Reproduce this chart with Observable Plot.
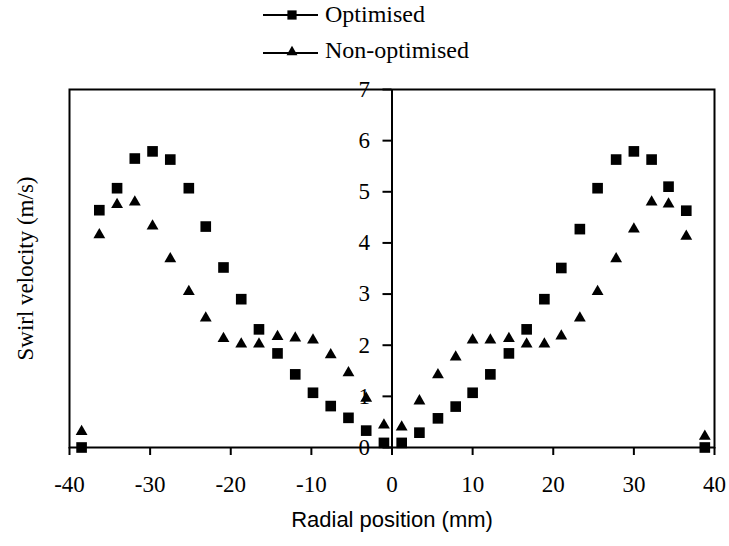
<!DOCTYPE html>
<html><head><meta charset="utf-8">
<script src="https://cdn.jsdelivr.net/npm/d3@7"></script>
<script src="https://cdn.jsdelivr.net/npm/@observablehq/plot@0.6"></script>
<style>
body{margin:0;background:#fff;width:729px;height:546px;overflow:hidden;font-family:"Liberation Serif","Times New Roman",Times,"DejaVu Serif",serif;}
#legend{display:block;}
#chart svg{display:block;}
</style></head><body>
<svg id="legend" width="729" height="70"></svg>
<div id="chart"></div>
<script>
// ---- data ----
const radial = [-38.5, -36.3, -34.1, -31.9, -29.7, -27.5, -25.2, -23.1, -20.9, -18.7, -16.5, -14.2, -12.0, -9.8, -7.6, -5.4, -3.2, -1.0,
                1.2, 3.4, 5.7, 7.9, 10.0, 12.2, 14.5, 16.7, 18.9, 21.0, 23.3, 25.5, 27.8, 30.0, 32.2, 34.3, 36.5, 38.8];
const optimised = [0.0, 4.64, 5.07, 5.65, 5.79, 5.63, 5.07, 4.32, 3.52, 2.90, 2.31, 1.84, 1.43, 1.07, 0.81, 0.58, 0.33, 0.09,
                   0.09, 0.29, 0.57, 0.80, 1.07, 1.43, 1.84, 2.31, 2.90, 3.51, 4.27, 5.07, 5.63, 5.79, 5.63, 5.10, 4.63, 0.0];
const nonOptimised = [0.31, 4.16, 4.75, 4.80, 4.33, 3.69, 3.05, 2.53, 2.13, 2.02, 2.02, 2.17, 2.14, 2.10, 1.81, 1.46, 0.96, 0.44,
                      0.40, 0.91, 1.42, 1.77, 2.10, 2.10, 2.13, 2.02, 2.02, 2.18, 2.53, 3.05, 3.69, 4.27, 4.80, 4.76, 4.13, 0.22];
const seriesNames = ["Optimised", "Non-optimised"];
const seriesSymbols = ["square", "triangle"];
const xTicks = [-40, -30, -20, -10, 0, 10, 20, 30, 40];
const yTicks = [0, 1, 2, 3, 4, 5, 6, 7];
const xLabel = "Radial position (mm)";
const yLabel = "Swirl velocity (m/s)";

const SERIF = '"Liberation Serif", "Times New Roman", Times, "DejaVu Serif", serif';
const SANS = '"Liberation Sans", Arial, Helvetica, sans-serif';

// ---- legend ----
const leg = d3.select("#legend");
const rowY = [15, 53];
const textBase = [22, 57.5];
seriesNames.forEach((name, i) => {
  leg.append("line").attr("x1", 263).attr("x2", 318).attr("y1", rowY[i]).attr("y2", rowY[i])
     .attr("stroke", "black").attr("stroke-width", 1.8);
  const sym = d3.symbol().type(seriesSymbols[i] === "square" ? d3.symbolSquare : d3.symbolTriangle)
     .size(seriesSymbols[i] === "square" ? 85 : 52);
  leg.append("path").attr("d", sym()).attr("transform", `translate(292,${rowY[i] + (i === 1 ? -1 : 0)})`).attr("fill", "black");
  leg.append("text").attr("x", 325).attr("y", textBase[i]).attr("font-size", 24)
     .style("font-family", SERIF).attr("fill", "black").text(name);
});

// ---- chart ----
const W = 729, H = 476;
const mL = 69, mR = 15, mT = 19, mB = 99;
const xDomain = [-40, 40];
const axisDx = (W - mL - mR) * (0 - xDomain[0]) / (xDomain[1] - xDomain[0]);
const optData = radial.map((r, i) => ({x: r, y: optimised[i]}));
const nonData = radial.map((r, i) => ({x: r, y: nonOptimised[i]}));

const chart = Plot.plot({
  width: W, height: H,
  marginLeft: mL, marginRight: mR, marginTop: mT, marginBottom: mB,
  style: {fontFamily: SERIF, fontSize: "23px", color: "black", background: "white", overflow: "visible"},
  x: {domain: xDomain},
  y: {domain: [0, 7]},
  marks: [
    Plot.frame({stroke: "black", strokeWidth: 2}),
    Plot.ruleX([0], {stroke: "black", strokeWidth: 2}),
    Plot.axisX(xTicks, {tickSize: 8, tickPadding: 20, strokeWidth: 2, tickFormat: d => String(d), label: null, fontSize: 23}),
    Plot.axisY(yTicks, {anchor: "left", dx: axisDx, tickSize: 9, tickPadding: 13, strokeWidth: 2, tickFormat: d => String(d), label: null, fontSize: 23}),
    Plot.text([xLabel], {text: d => d, frameAnchor: "bottom", textAnchor: "middle", dy: 79, fontSize: 22, fill: "black", className: "sans"}),
    Plot.text([yLabel], {text: d => d, frameAnchor: "left", textAnchor: "middle", rotate: -90, dx: -44, fontSize: 23, fill: "black"}),
    Plot.dot(optData, {x: "x", y: "y", symbol: "square", r: 6, fill: "black", stroke: null}),
    Plot.dot(nonData, {x: "x", y: "y", symbol: "triangle", r: 4.4, fill: "black", stroke: null})
  ]
});
document.getElementById("chart").appendChild(chart);
d3.select(chart).selectAll("text").style("font-family", SERIF);
d3.select(chart).selectAll("g.sans text, text.sans").style("font-family", SANS);
</script>
</body></html>
